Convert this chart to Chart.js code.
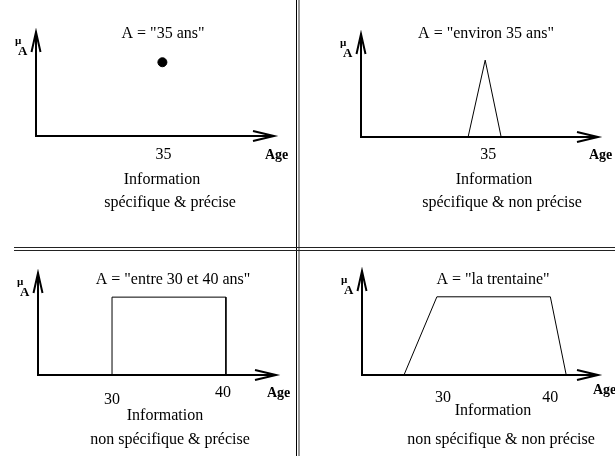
<!DOCTYPE html>
<html>
<head>
<meta charset="utf-8">
<script src="https://cdn.jsdelivr.net/npm/chart.js@4.4.0/dist/chart.umd.min.js"></script>
<style>
  body { margin: 0; background: #fff; }
  #page { position: relative; width: 615px; height: 456px; overflow: hidden; }
  canvas { position: absolute; left: 0; top: 0; }
  .sep { position: absolute; }
</style>
</head>
<body>
<div id="page">
  <canvas id="c1" width="615" height="456"></canvas>
  <canvas id="c2" width="615" height="456"></canvas>
  <canvas id="c3" width="615" height="456"></canvas>
  <canvas id="c4" width="615" height="456"></canvas>
  <div class="sep" style="left:296px;top:0;width:1px;height:456px;background:#000"></div>
  <div class="sep" style="left:298px;top:0;width:2px;height:456px;background:#999"></div>
  <div class="sep" style="left:14px;top:247px;width:601px;height:1px;background:#222"></div>
  <div class="sep" style="left:14px;top:250px;width:601px;height:1px;background:#222"></div>
</div>
<script>
// membership functions, age -> mu
var ages1 = [35];
var mu1 = [1];
var ages2 = [33.5, 35, 36.4];
var mu2 = [0, 1, 0];
var ages3 = [30, 30, 40, 40];
var mu3 = [0, 1, 1, 0];
var ages4 = [27.1, 30, 40, 41.4];
var mu4 = [0, 1, 1, 0];

var tickVals1 = [35], tickLabels1 = ["35"];
var tickVals2 = [35], tickLabels2 = ["35"];
var tickVals3 = [30, 40], tickLabels3 = ["30", "40"];
var tickVals4 = [30, 40], tickLabels4 = ["30", "40"];

var titles = ['A = "35 ans"', 'A = "environ 35 ans"', 'A = "entre 30 et 40 ans"', 'A = "la trentaine"'];
var captions = ["spécifique & précise", "spécifique & non précise", "non spécifique & précise", "non spécifique & non précise"];

Chart.defaults.font.family = "Liberation Serif";
Chart.defaults.color = "#000";

function toPoints(xs, ys) {
  return xs.map(function (x, i) { return { x: x, y: ys[i] }; });
}

var fuzzyPlugin = {
  id: "fuzzy",
  afterDraw: function (chart, args, o) {
    var ctx = chart.ctx, a = chart.chartArea, xs = chart.scales.x;
    ctx.save();
    ctx.strokeStyle = "#000";
    ctx.fillStyle = "#000";
    ctx.lineWidth = 2;
    // axes with open arrow heads
    ctx.beginPath();
    ctx.moveTo(a.left, a.top);
    ctx.lineTo(a.left, a.bottom);
    ctx.lineTo(a.right, a.bottom);
    ctx.moveTo(a.left - 4.5, a.top + 20);
    ctx.lineTo(a.left, a.top);
    ctx.lineTo(a.left + 4.5, a.top + 20);
    ctx.moveTo(a.right - 21, a.bottom - 5);
    ctx.lineTo(a.right, a.bottom);
    ctx.lineTo(a.right - 21, a.bottom + 5);
    ctx.stroke();

    ctx.textBaseline = "alphabetic";
    ctx.textAlign = "left";
    ctx.font = "bold 11px 'Liberation Serif'";
    ctx.fillText("\u00b5", a.left - 21, a.top + 12);
    ctx.font = "bold 13px 'Liberation Serif'";
    ctx.fillText("A", a.left - 18, a.top + 23);

    ctx.textBaseline = "middle";
    ctx.font = "bold 14px 'Liberation Serif'";
    ctx.fillText("Age", o.age[0], o.age[1]);

    ctx.textAlign = "center";
    ctx.font = "16px 'Liberation Serif'";
    ctx.fillText(o.title, o.titlePos[0], o.titlePos[1]);
    o.ticks.forEach(function (v, i) {
      ctx.fillText(o.labels[i], xs.getPixelForValue(v) + o.tickDx[i], o.tickY[i]);
    });
    ctx.fillText("Information", o.info[0], o.info[1]);
    ctx.fillText(o.caption, o.cap[0], o.cap[1]);
    ctx.restore();
  }
};

function makeChart(id, xs, ys, pad, xr, ymax, line, opts) {
  return new Chart(document.getElementById(id), {
    type: "scatter",
    data: {
      datasets: [{
        data: toPoints(xs, ys),
        showLine: line,
        borderColor: "#000",
        borderWidth: 1,
        backgroundColor: "#000",
        pointRadius: line ? 0 : 4.5,
        tension: 0,
        clip: false
      }]
    },
    options: {
      responsive: false,
      animation: false,
      events: [],
      layout: { padding: pad },
      scales: {
        x: { type: "linear", display: false, min: xr[0], max: xr[1] },
        y: { type: "linear", display: false, min: 0, max: ymax }
      },
      plugins: { legend: { display: false }, tooltip: { enabled: false }, fuzzy: opts }
    },
    plugins: [fuzzyPlugin]
  });
}

makeChart("c1", ages1, mu1, { left: 36, top: 32, right: 341, bottom: 320 }, [23.9, 44.8], 1.41, false, {
  title: titles[0], titlePos: [163, 34], ticks: tickVals1, labels: tickLabels1, tickDx: [1], tickY: [155],
  age: [265, 155], info: [162, 180], caption: captions[0], cap: [170, 203]
});
makeChart("c2", ages2, mu2, { left: 361, top: 34, right: 17, bottom: 319 }, [24.1, 44.9], 1.34, true, {
  title: titles[1], titlePos: [486, 34], ticks: tickVals2, labels: tickLabels2, tickDx: [3], tickY: [155],
  age: [589, 155], info: [494, 180], caption: captions[1], cap: [502, 203]
});
makeChart("c3", ages3, mu3, { left: 38, top: 273, right: 339, bottom: 81 }, [23.5, 44.4], 1.31, true, {
  title: titles[2], titlePos: [173, 280], ticks: tickVals3, labels: tickLabels3, tickDx: [0, -3], tickY: [400, 393],
  age: [267, 393], info: [165, 416], caption: captions[2], cap: [170, 440]
});
makeChart("c4", ages4, mu4, { left: 362, top: 271, right: 17, bottom: 81 }, [23.4, 44.2], 1.33, true, {
  title: titles[3], titlePos: [493, 280], ticks: tickVals4, labels: tickLabels4, tickDx: [6, 0], tickY: [398, 398],
  age: [593, 390], info: [493, 411], caption: captions[3], cap: [501, 440]
});
</script>
</body>
</html>
